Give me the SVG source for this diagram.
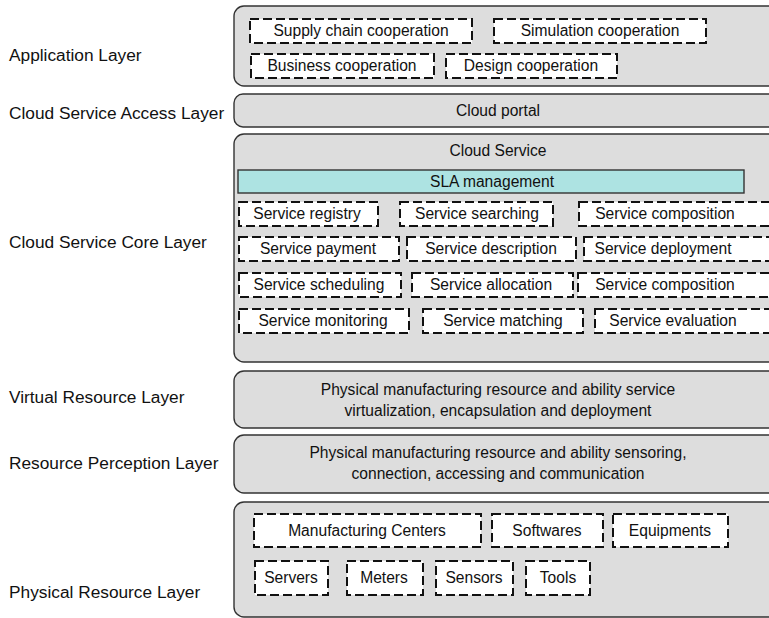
<svg xmlns="http://www.w3.org/2000/svg" width="769" height="618" viewBox="0 0 769 618">
<style>
text{font-family:"Liberation Sans",Arial,Helvetica,sans-serif;fill:#111}
.lbl{font-size:17.3px}
.t{font-size:15.6px;text-anchor:middle}
.layer{fill:#dddddd;stroke:#333;stroke-width:1.4}
.d{fill:#fff;stroke:#111;stroke-width:2;stroke-dasharray:9 4}
.sla{fill:#ade3e2;stroke:#333;stroke-width:1.4}
</style>
<rect width="769" height="618" fill="#fff"/>
<g id="labels">
<text class="lbl" x="9" y="61">Application Layer</text>
<text class="lbl" x="9" y="119">Cloud Service Access Layer</text>
<text class="lbl" x="9" y="248">Cloud Service Core Layer</text>
<text class="lbl" x="9" y="403">Virtual Resource Layer</text>
<text class="lbl" x="9" y="469">Resource Perception Layer</text>
<text class="lbl" x="9" y="598">Physical Resource Layer</text>
</g>
<g id="application-layer">
<rect class="layer" x="234" y="6" width="560" height="80" rx="10"/>
<g id="supply-chain"><rect class="d" x="250" y="19" width="222" height="24"/><text class="t" x="361" y="36">Supply chain cooperation</text></g>
<g id="simulation"><rect class="d" x="494" y="19" width="212" height="24"/><text class="t" x="600" y="36">Simulation cooperation</text></g>
<g id="business"><rect class="d" x="251" y="54" width="183" height="24"/><text class="t" x="342" y="71">Business cooperation</text></g>
<g id="design"><rect class="d" x="446" y="54" width="171" height="24"/><text class="t" x="531" y="71">Design cooperation</text></g>
</g>
<g id="access-layer">
<rect class="layer" x="234" y="94" width="560" height="33" rx="9"/>
<text class="t" x="498" y="116">Cloud portal</text>
</g>
<g id="core-layer">
<rect class="layer" x="234" y="134" width="560" height="228" rx="10"/>
<text class="t" x="498" y="156">Cloud Service</text>
<g id="sla"><rect class="sla" x="238" y="170" width="506" height="23"/><text class="t" x="492" y="187">SLA management</text></g>
<g id="s-registry"><rect class="d" x="239" y="202" width="139" height="24"/><text class="t" x="307" y="219">Service registry</text></g>
<g id="s-searching"><rect class="d" x="400" y="202" width="153" height="24"/><text class="t" x="477" y="219">Service searching</text></g>
<g id="s-composition-1"><rect class="d" x="579" y="202" width="200" height="24"/><text class="t" x="665" y="219">Service composition</text></g>
<g id="s-payment"><rect class="d" x="239" y="237" width="160" height="24"/><text class="t" x="318" y="254">Service payment</text></g>
<g id="s-description"><rect class="d" x="407" y="237" width="169" height="24"/><text class="t" x="491" y="254">Service description</text></g>
<g id="s-deployment"><rect class="d" x="584" y="237" width="200" height="24"/><text class="t" x="663" y="254">Service deployment</text></g>
<g id="s-scheduling"><rect class="d" x="239" y="273" width="162" height="24"/><text class="t" x="319" y="290">Service scheduling</text></g>
<g id="s-allocation"><rect class="d" x="412" y="273" width="161" height="24"/><text class="t" x="491" y="290">Service allocation</text></g>
<g id="s-composition-2"><rect class="d" x="578" y="273" width="200" height="24"/><text class="t" x="665" y="290">Service composition</text></g>
<g id="s-monitoring"><rect class="d" x="239" y="309" width="170" height="24"/><text class="t" x="323" y="326">Service monitoring</text></g>
<g id="s-matching"><rect class="d" x="423" y="309" width="160" height="24"/><text class="t" x="503" y="326">Service matching</text></g>
<g id="s-evaluation"><rect class="d" x="595" y="309" width="200" height="24"/><text class="t" x="673" y="326">Service evaluation</text></g>
</g>
<g id="virtual-layer">
<rect class="layer" x="234" y="371" width="560" height="57" rx="10"/>
<text class="t" x="498" y="395">Physical manufacturing resource and ability service</text>
<text class="t" x="498" y="416">virtualization, encapsulation and deployment</text>
</g>
<g id="perception-layer">
<rect class="layer" x="234" y="435" width="560" height="58" rx="10"/>
<text class="t" x="498" y="458">Physical manufacturing resource and ability sensoring,</text>
<text class="t" x="498" y="479">connection, accessing and communication</text>
</g>
<g id="physical-layer">
<rect class="layer" x="234" y="502" width="560" height="115" rx="10"/>
<g id="manufacturing-centers"><rect class="d" x="254" y="514" width="227" height="33"/><text class="t" x="367" y="536">Manufacturing Centers</text></g>
<g id="softwares"><rect class="d" x="492" y="514" width="111" height="33"/><text class="t" x="547" y="536">Softwares</text></g>
<g id="equipments"><rect class="d" x="613" y="514" width="115" height="33"/><text class="t" x="670" y="536">Equipments</text></g>
<g id="servers"><rect class="d" x="255" y="561" width="73" height="34"/><text class="t" x="291" y="583">Servers</text></g>
<g id="meters"><rect class="d" x="347" y="561" width="76" height="34"/><text class="t" x="384" y="583">Meters</text></g>
<g id="sensors"><rect class="d" x="436" y="561" width="77" height="34"/><text class="t" x="474" y="583">Sensors</text></g>
<g id="tools"><rect class="d" x="526" y="561" width="64" height="34"/><text class="t" x="558" y="583">Tools</text></g>
</g>
<g id="connectors"/>
</svg>
